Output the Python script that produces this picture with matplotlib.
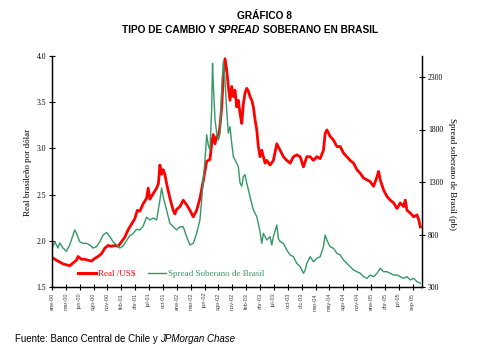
import numpy as np
import matplotlib
matplotlib.use('Agg')
import matplotlib.pyplot as plt

# meses desde ene-00
meses_real = [0.00, 0.83, 1.45, 2.08, 2.72, 3.34, 3.97, 4.61, 4.91, 5.55, 6.18, 6.80, 7.44, 8.06,
              8.69, 9.33, 9.95, 10.58, 11.22, 11.84, 12.46, 13.11, 13.73, 14.35, 14.99, 15.62,
              16.09, 16.56, 17.18, 17.83, 18.13, 18.45, 19.07, 19.72, 20.06, 20.34, 20.66, 20.96,
              21.28, 21.60, 22.23, 22.85, 23.17, 23.49, 24.12, 24.74, 25.38, 26.00, 26.63, 27.27,
              27.89, 28.52, 29.16, 29.78, 30.10, 30.40, 30.72, 31.05, 31.35, 31.67, 31.99, 32.29,
              32.61, 32.93, 33.24, 33.56, 33.88, 34.18, 34.50, 34.82, 35.12, 35.45, 35.77, 36.07,
              36.39, 36.71, 37.01, 37.33, 37.66, 37.96, 38.28, 38.60, 38.90, 39.22, 39.54, 39.85,
              40.17, 40.49, 41.11, 41.73, 42.38, 43.00, 43.62, 44.26, 44.89, 45.51, 46.15, 46.78,
              47.40, 48.04, 48.66, 49.29, 49.92, 50.55, 51.17, 51.49, 51.81, 52.44, 53.06, 53.71,
              54.33, 54.95, 55.59, 56.22, 56.84, 57.48, 58.11, 58.73, 59.37, 59.99, 60.62, 61.26,
              61.56, 61.88, 62.51, 63.15, 63.77, 64.40, 65.04, 65.66, 66.28, 66.60, 66.92, 67.55,
              68.17, 68.81, 69.12, 69.44]
real = [1.82, 1.79, 1.77, 1.75, 1.74, 1.73, 1.76, 1.79, 1.83, 1.80, 1.80, 1.79, 1.78, 1.81,
        1.83, 1.86, 1.92, 1.95, 1.94, 1.95, 1.94, 1.99, 2.04, 2.12, 2.18, 2.24,
        2.33, 2.32, 2.40, 2.46, 2.57, 2.45, 2.51, 2.57, 2.62, 2.82, 2.72, 2.77,
        2.72, 2.62, 2.46, 2.33, 2.29, 2.34, 2.37, 2.44, 2.39, 2.33, 2.26, 2.33,
        2.46, 2.65, 2.86, 2.88, 3.05, 3.15, 3.05, 3.13, 3.12, 3.24, 3.45, 3.78,
        3.97, 3.85, 3.67, 3.52, 3.67, 3.56, 3.63, 3.45, 3.52, 3.38, 3.27, 3.48,
        3.60, 3.65, 3.62, 3.56, 3.52, 3.45, 3.31, 3.20, 3.02, 2.91, 2.98, 2.91,
        2.84, 2.87, 2.82, 2.87, 3.05, 2.98, 2.91, 2.87, 2.84, 2.91, 2.93, 2.91,
        2.80, 2.91, 2.91, 2.87, 2.91, 2.89, 2.98, 3.16, 3.20, 3.13, 3.09, 3.02,
        3.02, 2.95, 2.91, 2.87, 2.84, 2.77, 2.73, 2.68, 2.66, 2.64, 2.59, 2.69,
        2.75, 2.66, 2.55, 2.48, 2.44, 2.41, 2.35, 2.41, 2.37, 2.44, 2.33, 2.30,
        2.26, 2.28, 2.23, 2.15]

meses_spread = [0.00, 0.51, 1.13, 1.45, 2.08, 2.72, 3.34, 3.97, 4.29, 4.61, 5.23, 5.85, 6.50,
                7.12, 7.74, 8.38, 9.01, 9.63, 10.27, 10.90, 11.52, 12.16, 12.78, 13.41, 14.05,
                14.67, 15.30, 15.94, 16.56, 17.18, 17.83, 18.45, 19.07, 19.72, 20.34, 20.66,
                20.96, 21.60, 22.23, 22.85, 23.49, 24.12, 24.74, 25.38, 26.00, 26.63, 27.27,
                27.89, 28.52, 28.84, 29.16, 29.46, 29.78, 30.10, 30.26, 30.40, 30.72, 31.05,
                31.35, 31.67, 31.99, 32.29, 32.61, 32.93, 33.24, 33.56, 33.88, 34.18, 34.82,
                35.12, 35.45, 35.77, 36.07, 36.39, 36.71, 37.33, 37.96, 38.60, 39.22, 39.54,
                39.85, 40.49, 41.11, 41.43, 41.73, 42.38, 42.68, 43.00, 43.62, 44.26, 44.89,
                45.51, 46.15, 46.78, 47.40, 47.72, 48.04, 48.66, 49.29, 49.92, 50.55, 51.17,
                51.49, 51.81, 52.44, 53.06, 53.71, 54.33, 54.95, 55.59, 56.22, 56.84, 57.48,
                58.11, 58.73, 59.37, 59.99, 60.62, 61.26, 61.88, 62.51, 63.15, 63.77, 64.40,
                65.04, 65.66, 66.28, 66.92, 67.55, 68.17, 68.81, 69.44]
spread = [660, 730, 671, 720, 671, 640, 700, 795, 843, 811, 731, 716, 716,
          700, 671, 684, 731, 795, 820, 780, 731, 700, 671, 690, 740,
          790, 810, 850, 843, 880, 965, 938, 957, 938, 1128, 1243,
          1160, 1033, 906, 874, 843, 874, 874, 779, 700, 716, 811,
          940, 1319, 1510, 1750, 1650, 1605, 2000, 2430, 2240, 1900, 1764,
          1700, 1764, 2176, 2446, 2270, 1986, 1764, 1827, 1668, 1541, 1480,
          1446, 1290, 1260, 1351, 1370, 1290, 1160, 1033, 970, 827, 716,
          811, 748, 780, 700, 780, 890, 760, 732, 716, 652, 605,
          589, 525, 494, 430, 460, 525, 589, 541, 573, 589, 684,
          795, 748, 684, 668, 621, 605, 557, 525, 494, 462, 446,
          430, 398, 383, 414, 398, 430, 478, 446, 446, 430, 414,
          414, 398, 383, 398, 367, 383, 351, 335]

etiquetas_x = ['ene-00', 'mar-00', 'jun-00', 'ago-00', 'nov-00', 'feb-01', 'abr-01', 'jul-01',
               'oct-01', 'ene-02', 'mar-02', 'jun-02', 'ago-02', 'nov-02', 'feb-03', 'abr-03',
               'jul-03', 'oct-03', 'dic-03', 'mar-04', 'may-04', 'ago-04', 'nov-04', 'ene-05',
               'abr-05', 'jul-05', 'sep-05']

W, H = 482, 358
fig = plt.figure(figsize=(W / 100, H / 100), dpi=100)
ax = fig.add_axes([52 / W, 1 - 287 / H, 370 / W, 231 / H])
ax2 = ax.twinx()

l1, = ax.plot(meses_real, real, color='#ff0000', lw=2.0, label='Real /US$')
l2, = ax2.plot(meses_spread, spread, color='#339966', lw=1.0, label='Spread Soberano de Brasil')

ax.set_xlim(0, 69.75)
ax.set_ylim(1.5, 4.0)
ax2.set_ylim(300, 2500)

ax.set_xticks(np.linspace(0, 68, 27))
ax.set_xticklabels(etiquetas_x, rotation=90, fontsize=4, family='Liberation Sans', color='#444444')
ax.set_yticks([1.5, 2.0, 2.5, 3.0, 3.5, 4.0])
ax.set_yticklabels(['1.5', '2.0', '2.5', '3.0', '3.5', '4.0'], family='Liberation Serif', fontsize=5.5)
ax2.set_yticks([300, 800, 1300, 1800, 2300])
ax2.set_yticklabels(['300', '800', '1300', '1800', '2300'], family='Liberation Serif', fontsize=5.5)

for a in (ax, ax2):
    a.spines['top'].set_visible(False)
    for s in a.spines.values():
        s.set_linewidth(0.9)
ax.tick_params(axis='both', direction='inout', length=4.5, width=0.8, pad=2)
ax2.tick_params(axis='y', direction='inout', length=4.5, width=0.8, pad=2)

leg = ax2.legend([l1, l2], ['Real /US$', 'Spread Soberano de Brasil'], loc='lower left',
                 bbox_to_anchor=(0.07, 0.04), ncol=2, frameon=False, borderpad=0, borderaxespad=0,
                 prop=dict(family='Liberation Serif', size=6.5), handlelength=2.0,
                 handletextpad=0.2, columnspacing=1.4)
for t, c in zip(leg.get_texts(), ['#ff0000', '#339966']):
    t.set_color(c)
leg.get_lines()[0].set_linewidth(2.2)

fig.text(28 / W, 1 - 172 / H, 'Real brasileño por dólar', rotation=90, ha='center', va='center',
         family='Liberation Serif', fontsize=6.5)
fig.text(452 / W, 1 - 174 / H, 'Spread soberano de Brasil (pb)', rotation=270, ha='center', va='center',
         family='Liberation Serif', fontsize=6.5)


def texto_mixto(x, y, partes, centrado=False, **kw):
    rend = fig.canvas.get_renderer()
    objs = [fig.text(0, y, s, fontstyle=st, va='center', **kw) for s, st, _ in partes]
    anchos = [t.get_window_extent(rend).width + g for t, (_, _, g) in zip(objs, partes)]
    pos = x - sum(anchos) / 2 if centrado else x
    for t, w in zip(objs, anchos):
        t.set_x(pos / W)
        pos += w


fig.text(264 / W, 1 - 16 / H, 'GRÁFICO 8', ha='center', va='center', fontweight='bold',
         fontsize=7.3, family='Liberation Sans')
texto_mixto(250, 1 - 30 / H, [('TIPO DE CAMBIO Y ', 'normal', 0), ('SPREAD', 'italic', 2.5),
                              ('SOBERANO EN BRASIL', 'normal', 0)],
            centrado=True, fontweight='bold', fontsize=7.3, family='Liberation Sans')
texto_mixto(15, 1 - 339 / H, [('Fuente: Banco Central de Chile y ', 'normal', 0),
                              ('JPMorgan Chase', 'italic', 0)],
            fontsize=7, family='Liberation Sans')

fig.savefig('out.png', dpi=100)
